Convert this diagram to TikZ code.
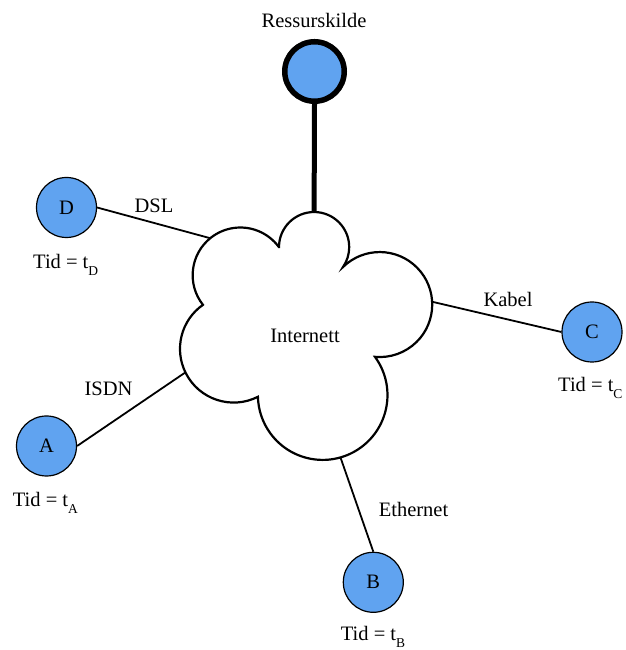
\documentclass[tikz,border=0pt]{standalone}
\usepackage{fontspec}
\setmainfont{Liberation Serif}
\usetikzlibrary{calc}
\definecolor{hostblue}{RGB}{96,163,240}
\newcommand{\tidsub}[1]{Tid = t\raisebox{-7pt}{\fontsize{13.5}{14}\selectfont #1}}
\begin{document}
\begin{tikzpicture}[x=1pt,y=1pt,
  every node/.style={font=\fontsize{20.5}{24}\selectfont},
  host/.style={circle, draw=black, line width=1.2pt, fill=hostblue,
    minimum size=60pt, inner sep=0pt},
  source/.style={host, line width=5.5pt, minimum size=59.5pt},
  link/.style={draw=black, line width=1.8pt},
  uplink/.style={draw=black, line width=5pt},
  cloudline/.style={draw=black, line width=2.2pt, fill=white},
  lbl/.style={inner sep=0pt},
]
\useasboundingbox (0,0) rectangle (625,650);

% centres of the five cloud lobes
\coordinate (o1) at (314.1,402.9);
\coordinate (o2) at (379.7,345.5);
\coordinate (o3) at (322.6,254.9);
\coordinate (o4) at (233.6,301.1);
\coordinate (o5) at (240.3,374.7);

% the Internet cloud
\draw[cloudline] (279,403)
  arc[start angle=179.8, end angle=-34.6, radius=35.1]
  arc[start angle=134.4, end angle=-95.2, radius=52.5]
  arc[start angle=36.2, end angle=-178.5, radius=64.8]
  arc[start angle=-63.2, end angle=-235.1, radius=53.7]
  arc[start angle=218.4, end angle=36.3, radius=47.7] -- cycle;
\node[lbl] (net) at (305,314) {Internett};

% attachment points on the cloud outline
\coordinate (netTop)   at ($(o1)+(90:35.1)$);
\coordinate (netKabel) at ($(o2)+(3:52.5)$);
\coordinate (netEth)   at ($(o3)+(-74:64.8)$);
\coordinate (netISDN)  at ($(o4)+(206:53.7)$);
\coordinate (netDSL)   at ($(o5)+(129:47.7)$);

% resource and clients
\node[source] (R) at (314.5,578.5) {};
\node[lbl] (Rlab) at (314,630) {Ressurskilde};
\node[host] (D) at (66.5,442.5) {D};
\node[host] (A) at (46.5,204) {A};
\node[host] (B) at (373.3,67.7) {B};
\node[host] (C) at (592,318) {C};

% connections
\draw[uplink] (R.south) -- (netTop);
\draw[link] (D.east) -- (netDSL);
\draw[link] (A.east) -- (netISDN);
\draw[link] (B.north) -- (netEth);
\draw[link] (C.west) -- (netKabel);

% link labels
\node[lbl] (lDSL) at (154,444.5) {DSL};
\node[lbl] (lISDN) at (108.5,261) {ISDN};
\node[lbl] (lEth) at (413.5,141) {Ethernet};
\node[lbl] (lKabel) at (508,351) {Kabel};

% time labels
\node[lbl, anchor=base west] (tD) at (33,381) {\tidsub{D}};
\node[lbl, anchor=base west] (tA) at (12.7,143) {\tidsub{A}};
\node[lbl, anchor=base west] (tB) at (340.7,9.3) {\tidsub{B}};
\node[lbl, anchor=base west] (tC) at (558,258.3) {\tidsub{C}};
\end{tikzpicture}
\end{document}
